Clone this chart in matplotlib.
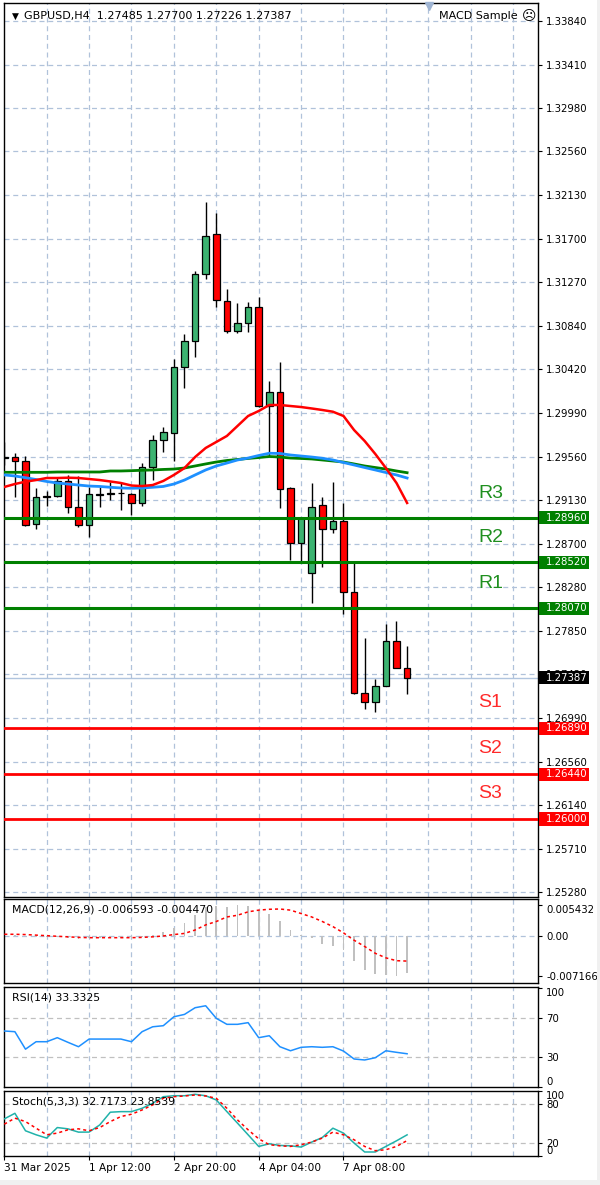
import matplotlib
matplotlib.use('Agg')
import matplotlib.pyplot as plt
import matplotlib.transforms as mtransforms
from matplotlib.patches import Rectangle
import numpy as np

# ---------------- data ----------------
opens = [1.29545, 1.29555, 1.29516, 1.28897, 1.29162, 1.29172, 1.29319, 1.29064, 1.28887, 1.29182,
         1.29192, 1.29201, 1.29192, 1.29103, 1.29457, 1.29722, 1.29791, 1.30439, 1.30694, 1.31352,
         1.31745, 1.31087, 1.30792, 1.30871, 1.31028, 1.30056, 1.30193, 1.29251, 1.28710, 1.28416,
         1.29084, 1.28848, 1.28927, 1.28229, 1.27237, 1.27149, 1.27306, 1.27748, 1.27485]
highs = [1.29702, 1.29594, 1.29565, 1.29251, 1.29221, 1.29359, 1.29378, 1.29368, 1.29260, 1.29260,
         1.29310, 1.29300, 1.29204, 1.29496, 1.29771, 1.29850, 1.30518, 1.30763, 1.31382, 1.32059,
         1.31951, 1.31205, 1.31068, 1.31077, 1.31126, 1.30301, 1.30488, 1.29260, 1.28956, 1.29300,
         1.29162, 1.29310, 1.29103, 1.28514, 1.27777, 1.27375, 1.27915, 1.27944, 1.27700]
lows = [1.29476, 1.29162, 1.28877, 1.28848, 1.29074, 1.29162, 1.29005, 1.28868, 1.28769, 1.29064,
        1.29133, 1.29035, 1.28985, 1.29074, 1.29329, 1.29604, 1.29516, 1.30233, 1.30537, 1.31303,
        1.31028, 1.30773, 1.30773, 1.30783, 1.30046, 1.29565, 1.29054, 1.28543, 1.28514, 1.28121,
        1.28475, 1.28809, 1.28013, 1.27227, 1.27080, 1.27051, 1.27306, 1.27483, 1.27226]
closes = [1.29555, 1.29516, 1.28887, 1.29162, 1.29172, 1.29319, 1.29064, 1.28887, 1.29192, 1.29192,
          1.29201, 1.29205, 1.29103, 1.29457, 1.29722, 1.29800, 1.30439, 1.30694, 1.31352, 1.31725,
          1.31097, 1.30792, 1.30871, 1.31028, 1.30056, 1.30193, 1.29241, 1.28710, 1.28956, 1.29064,
          1.28848, 1.28927, 1.28229, 1.27237, 1.27149, 1.27306, 1.27748, 1.27483, 1.27387]

ma_red = [1.29261, 1.29290, 1.29313, 1.29329, 1.29349, 1.29349, 1.29352, 1.29349, 1.29339, 1.29329,
          1.29315, 1.29300, 1.29275, 1.29270, 1.29280, 1.29320, 1.29379, 1.29447, 1.29555, 1.29644,
          1.29703, 1.29762, 1.29860, 1.29958, 1.30007, 1.30066, 1.30066, 1.30056, 1.30046, 1.30032,
          1.30017, 1.30000, 1.29958, 1.29820, 1.29712, 1.29585, 1.29447, 1.29300, 1.29104]
ma_blue = [1.29379, 1.29369, 1.29352, 1.29334, 1.29315, 1.29300, 1.29290, 1.29280, 1.29270, 1.29266,
           1.29258, 1.29251, 1.29248, 1.29251, 1.29258, 1.29266, 1.29290, 1.29329, 1.29379, 1.29428,
           1.29467, 1.29496, 1.29526, 1.29545, 1.29570, 1.29592, 1.29590, 1.29575, 1.29565, 1.29555,
           1.29543, 1.29526, 1.29501, 1.29477, 1.29452, 1.29428, 1.29403, 1.29379, 1.29349]
ma_green = [1.29405, 1.29405, 1.29405, 1.29405, 1.29405, 1.29408, 1.29408, 1.29408, 1.29408, 1.29408,
            1.29418, 1.29418, 1.29421, 1.29425, 1.29428, 1.29433, 1.29437, 1.29447, 1.29467, 1.29487,
            1.29506, 1.29521, 1.29531, 1.29541, 1.29550, 1.29560, 1.29555, 1.29545, 1.29541, 1.29536,
            1.29526, 1.29516, 1.29506, 1.29487, 1.29467, 1.29452, 1.29437, 1.29418, 1.29401]

resistance_names = ['R3', 'R2', 'R1']
resistance_levels = [1.2896, 1.2852, 1.2807]
support_names = ['S1', 'S2', 'S3']
support_levels = [1.2689, 1.2644, 1.2600]
current_price = 1.27387

price_ticks = [1.3384, 1.3341, 1.3298, 1.3256, 1.3213, 1.3170, 1.3127, 1.3084, 1.3042, 1.2999,
               1.2956, 1.2913, 1.2870, 1.2828, 1.2785, 1.2742, 1.2699, 1.2656, 1.2614, 1.2571, 1.2528]

macd_main = [0.0003, 0.0002, 0.0000, -0.0002, -0.0003, -0.0003, -0.0004, -0.0005, -0.0004, -0.0004,
             -0.0004, -0.0004, -0.0004, -0.0002, 0.0002, 0.0006, 0.0014, 0.0022, 0.0036, 0.0051,
             0.0052, 0.0051, 0.005432, 0.0053, 0.0045, 0.0038, 0.0025, 0.0010, 0.0002, -0.0004,
             -0.0015, -0.0019, -0.0025, -0.0045, -0.0060, -0.0068, -0.0070, -0.007166, -0.006593]
macd_signal = [0.00025, 0.00025, 0.0002, 0.0001, 0.0, -0.0001, -0.0002, -0.0003, -0.00035, -0.00035,
               -0.00035, -0.00035, -0.00035, -0.0003, -0.0002, -0.00005, 0.0002, 0.0004, 0.0010, 0.0019,
               0.0025, 0.0033, 0.0036, 0.0042, 0.0045, 0.00465, 0.0047, 0.0045, 0.0039, 0.0033,
               0.0025, 0.0016, 0.0005, -0.0008, -0.0019, -0.0031, -0.0039, -0.0044, -0.00447]
macd_ticks = [0.005432, 0.0, -0.007166]
macd_tick_labels = ['0.005432', '0.00', '-0.007166']

rsi = [56.5, 55.8, 38.0, 45.6, 45.6, 49.7, 45.0, 40.5, 48.3, 48.3,
       48.3, 48.3, 45.6, 55.8, 60.8, 61.9, 71.0, 73.4, 80.2, 82.2,
       69.4, 63.3, 63.3, 65.0, 49.7, 51.7, 40.5, 36.4, 39.9, 40.5,
       39.9, 40.5, 36.1, 28.0, 27.0, 29.3, 36.4, 34.8, 33.33]
rsi_levels = [70, 30]
rsi_ticks = [100, 70, 30, 0]

stoch_k = [57.4, 66.0, 39.0, 32.8, 27.7, 44.0, 42.0, 36.9, 37.0, 48.0,
           67.7, 68.6, 68.6, 73.8, 81.5, 91.7, 93.2, 93.2, 95.4, 93.2,
           86.6, 68.6, 50.8, 32.8, 14.8, 18.9, 16.3, 15.8, 13.8, 21.5,
           28.6, 43.0, 35.4, 20.0, 6.2, 6.2, 14.8, 23.5, 32.72]
stoch_d = [49.2, 58.5, 53.2, 43.0, 32.8, 35.4, 40.5, 42.0, 39.0, 44.0,
           53.2, 61.0, 64.6, 71.2, 79.0, 89.2, 91.7, 92.8, 94.3, 92.8,
           89.2, 73.8, 55.8, 40.5, 26.6, 17.4, 15.8, 14.8, 17.4, 21.5,
           27.7, 36.9, 32.8, 25.1, 14.8, 8.2, 9.7, 14.8, 23.85]
stoch_levels = [80, 20]
stoch_ticks = [100, 80, 20, 0]

date_positions = [0, 8, 16, 24, 32]
date_labels = ['31 Mar 2025', '1 Apr 12:00', '2 Apr 20:00', '4 Apr 04:00', '7 Apr 08:00']

header = 'GBPUSD,H4  1.27485 1.27700 1.27226 1.27387'
macd_title = 'MACD(12,26,9) -0.006593 -0.004470'
rsi_title = 'RSI(14) 33.3325'
stoch_title = 'Stoch(5,3,3) 32.7173 23.8539'

# ---------------- layout ----------------
W, H = 600, 1185
fig = plt.figure(figsize=(W / 100, H / 100), dpi=100)
fig.patch.set_facecolor('white')
plt.rcParams['font.family'] = ['DejaVu Sans']

GRID = '#b0c2da'
XL, XR = -0.028, 50.35
LEFT, RIGHT = 4, 538


def px_axes(top, bottom):
    return fig.add_axes([LEFT / W, 1 - bottom / H, (RIGHT - LEFT) / W, (bottom - top) / H])


def style(ax):
    ax.set_xlim(XL, XR)
    ax.set_facecolor('white')
    for s in ax.spines.values():
        s.set_color('black')
        s.set_linewidth(1.0)
    ax.yaxis.tick_right()
    ax.tick_params(axis='y', length=3, width=0.8, pad=3, labelsize=7.3, colors='black')
    ax.tick_params(axis='x', length=0, labelbottom=False)
    for g in range(4, 51, 4):
        ax.axvline(g, color=GRID, lw=0.9, ls=(0, (4, 3)), zorder=0)


x = np.arange(len(closes))

# ---- main panel ----
ax = px_axes(3, 896.5)
style(ax)
ax.set_ylim(1.25239, 1.34014)
ax.set_yticks(price_ticks)
ax.set_yticklabels(['%.5f' % t for t in price_ticks])
for t in price_ticks:
    ax.axhline(t, color=GRID, lw=0.9, ls=(0, (4, 3)), zorder=0)

o = np.array(opens); c = np.array(closes)
bull = c >= o
ax.vlines(x, lows, highs, color='black', lw=1, zorder=2)
bottoms = np.minimum(o, c)
heights = np.abs(c - o)
ax.bar(x[bull], heights[bull], bottom=bottoms[bull], width=0.62, color='#3cb371',
       edgecolor='black', linewidth=0.9, zorder=3)
ax.bar(x[~bull], heights[~bull], bottom=bottoms[~bull], width=0.62, color='#ff0000',
       edgecolor='black', linewidth=0.9, zorder=3)

ax.axhline(current_price, color='#b0c4de', lw=1, zorder=1)

ax.plot(x, ma_green, color='#008000', lw=2, zorder=4)
ax.plot(x, ma_blue, color='#1e90ff', lw=2, zorder=4)
ax.plot(x, ma_red, color='#ff0000', lw=1.8, zorder=5)

blend = mtransforms.blended_transform_factory(ax.transAxes, ax.transData)
bx0 = (539 - LEFT) / (RIGHT - LEFT)
bw = 50 / (RIGHT - LEFT)
tx = (545.5 - LEFT) / (RIGHT - LEFT)
bh = 0.00128


def price_box(level, face):
    ax.add_patch(Rectangle((bx0, level - bh / 2), bw, bh, transform=blend, facecolor=face,
                           edgecolor='none', clip_on=False, zorder=10))
    ax.text(tx, level, '%.5f' % level, transform=blend, color='white', fontsize=7.3,
            ha='left', va='center', clip_on=False, zorder=11)


for name, lvl in zip(resistance_names, resistance_levels):
    ax.axhline(lvl, color='#008000', lw=2.2, zorder=6)
    ax.text(44.7, lvl + 0.0024, name, color='#1f8f1f', fontsize=14, family='Liberation Sans',
            ha='left', va='center', zorder=7)
    price_box(lvl, '#008000')
for name, lvl in zip(support_names, support_levels):
    ax.axhline(lvl, color='#ff0000', lw=2, zorder=6)
    ax.text(44.7, lvl + 0.0025, name, color='#ff2a2a', fontsize=14, family='Liberation Sans',
            ha='left', va='center', zorder=7)
    price_box(lvl, '#ff0000')
price_box(current_price, '#000000')

# header texts
ax.text(8 / 534, 1 - 13 / 893.5, '\u25BC', transform=ax.transAxes, fontsize=6.5, va='center', ha='left')
ax.text(20 / 534, 1 - 13 / 893.5, header, transform=ax.transAxes, fontsize=8, va='center', ha='left')
ax.text(514 / 534, 1 - 13 / 893.5, 'MACD Sample', transform=ax.transAxes, fontsize=8, va='center', ha='right')
ax.text(532 / 534, 1 - 13 / 893.5, '\u2639', transform=ax.transAxes, fontsize=10, va='center', ha='right')
ax.plot([(429 - LEFT) / 534], [0.997], marker='v', color='#9fb4d2', markersize=6,
        transform=ax.transAxes, clip_on=False, zorder=12)

# ---- MACD ----
axm = px_axes(899, 983.3)
style(axm)
axm.set_ylim(-0.00838, 0.00646)
axm.axhline(0, color=GRID, lw=0.9, ls=(0, (4, 3)), zorder=0)
axm.bar(x, macd_main, width=0.16, color='#c0c0c0', zorder=2)
axm.plot(x, macd_signal, color='#ff0000', lw=1.1, ls=(0, (2, 2)), zorder=3)
axm.set_yticks(macd_ticks)
axm.set_yticklabels(macd_tick_labels)
axm.get_yticklabels()[0].set_va('top')
axm.text(8 / 534, 0.88, macd_title, transform=axm.transAxes, fontsize=7.8, va='center', ha='left')

# ---- RSI ----
axr = px_axes(987, 1086.7)
style(axr)
axr.set_ylim(-0.2, 101.3)
for lv in rsi_levels:
    axr.axhline(lv, color='#c0c0c0', lw=0.9, ls=(0, (4, 3)), zorder=0)
axr.plot(x, rsi, color='#1e90ff', lw=1.1, zorder=3)
axr.set_yticks(rsi_ticks)
axr.set_yticklabels([str(t) for t in rsi_ticks])
axr.get_yticklabels()[0].set_va('top')
axr.get_yticklabels()[3].set_va('bottom')
axr.text(8 / 534, 0.89, rsi_title, transform=axr.transAxes, fontsize=7.8, va='center', ha='left')

# ---- Stochastic ----
axs = px_axes(1091, 1156)
style(axs)
axs.set_ylim(0.5, 100.5)
for lv in stoch_levels:
    axs.axhline(lv, color='#c0c0c0', lw=0.9, ls=(0, (4, 3)), zorder=0)
axs.plot(x, stoch_k, color='#20b2aa', lw=1.1, zorder=3)
axs.plot(x, stoch_d, color='#ff0000', lw=1.1, ls=(0, (2, 2)), zorder=3)
axs.set_yticks(stoch_ticks)
axs.set_yticklabels([str(t) for t in stoch_ticks])
axs.get_yticklabels()[0].set_va('top')
axs.get_yticklabels()[3].set_va('bottom')
axs.text(8 / 534, 0.84, stoch_title, transform=axs.transAxes, fontsize=7.8, va='center', ha='left')
axs.set_xticks(date_positions)
axs.set_xticklabels(date_labels)
axs.tick_params(axis='x', length=3, width=0.8, pad=2, labelsize=7.6, labelbottom=True)
for lab in axs.get_xticklabels():
    lab.set_ha('left')

# window edges
fig.patches.append(Rectangle((0, 0), 1, 5 / H, transform=fig.transFigure, facecolor='#f0f0f0',
                             edgecolor='none', zorder=0))
fig.patches.append(Rectangle((597 / W, 0), 3 / W, 1, transform=fig.transFigure, facecolor='#f0f0f0',
                             edgecolor='none', zorder=0))

fig.savefig('out.png', dpi=100)
